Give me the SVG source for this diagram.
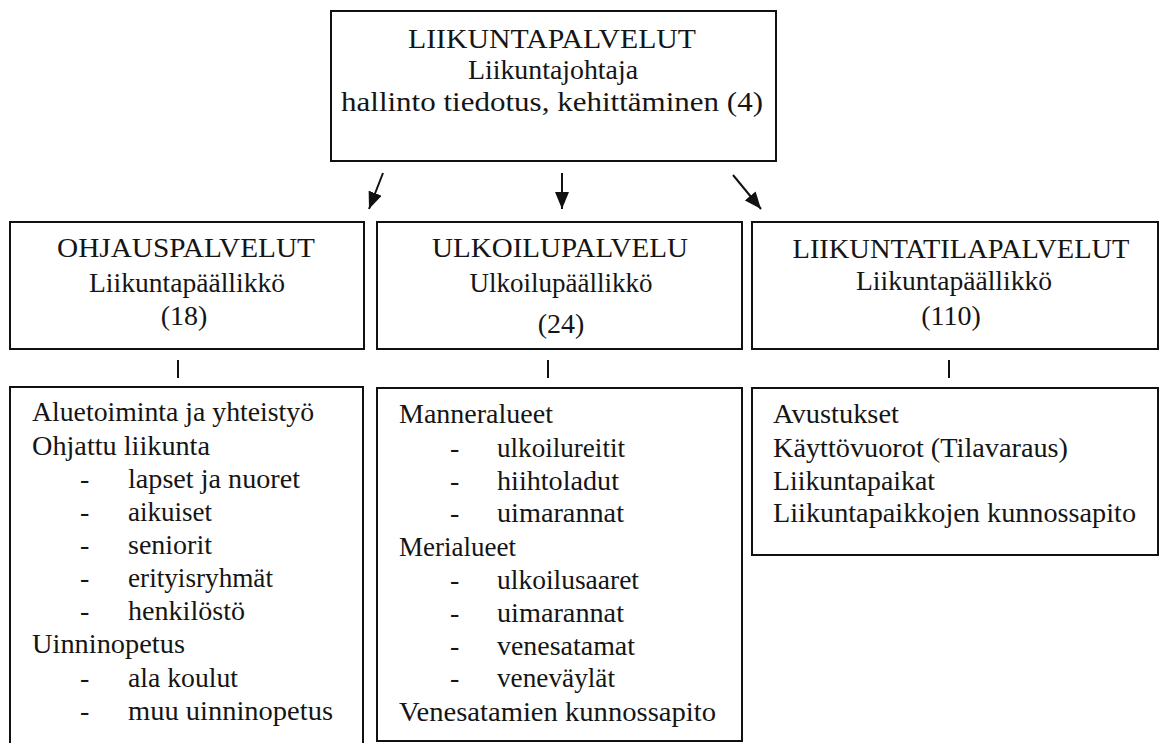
<svg xmlns="http://www.w3.org/2000/svg" width="1160" height="743" viewBox="0 0 1160 743">
<style>
  .box { fill: #fff; stroke: #111; stroke-width: 2; }
  text { font-family: "Liberation Serif", "Times New Roman", serif; font-size: 28px; fill: #151515; }
  .c { text-anchor: middle; }
  .conn { stroke: #111; stroke-width: 2; fill: none; }
</style>
<defs>
  <marker id="ah" markerUnits="userSpaceOnUse" markerWidth="18" markerHeight="15" refX="17" refY="7.5" orient="auto">
    <path d="M0,0.5 L17,7.5 L0,14.5 z" fill="#111"/>
  </marker>
</defs>
<rect width="1160" height="743" fill="#fff"/>

<g id="top">
  <rect class="box" x="331" y="11" width="445" height="150"/>
  <text class="c" x="552" y="48" textLength="288" lengthAdjust="spacingAndGlyphs">LIIKUNTAPALVELUT</text>
  <text class="c" x="553" y="79" textLength="170" lengthAdjust="spacingAndGlyphs">Liikuntajohtaja</text>
  <text class="c" x="552" y="111" textLength="422" lengthAdjust="spacingAndGlyphs">hallinto tiedotus, kehittäminen (4)</text>
</g>

<g id="connectors">
  <line class="conn" x1="383" y1="173" x2="369" y2="209" marker-end="url(#ah)"/>
  <line class="conn" x1="562" y1="173" x2="562" y2="209" marker-end="url(#ah)"/>
  <line class="conn" x1="733" y1="175" x2="761" y2="209" marker-end="url(#ah)"/>
  <line class="conn" x1="178" y1="360" x2="178" y2="378"/>
  <line class="conn" x1="548" y1="360" x2="548" y2="378"/>
  <line class="conn" x1="949" y1="360" x2="949" y2="378"/>
</g>

<g id="ohjaus">
  <rect class="box" x="10" y="222" width="354" height="127"/>
  <text class="c" x="186" y="257" textLength="258" lengthAdjust="spacingAndGlyphs">OHJAUSPALVELUT</text>
  <text class="c" x="187" y="292" textLength="196" lengthAdjust="spacingAndGlyphs">Liikuntapäällikkö</text>
  <text class="c" x="184" y="325">(18)</text>
</g>

<g id="ulkoilu">
  <rect class="box" x="377" y="222" width="365" height="127"/>
  <text class="c" x="560" y="257" textLength="256" lengthAdjust="spacingAndGlyphs">ULKOILUPALVELU</text>
  <text class="c" x="561" y="292" textLength="183" lengthAdjust="spacingAndGlyphs">Ulkoilupäällikkö</text>
  <text class="c" x="561" y="333">(24)</text>
</g>

<g id="liikuntatila">
  <rect class="box" x="752" y="222" width="406" height="127"/>
  <text class="c" x="961" y="258" textLength="337" lengthAdjust="spacingAndGlyphs">LIIKUNTATILAPALVELUT</text>
  <text class="c" x="954" y="290" textLength="196" lengthAdjust="spacingAndGlyphs">Liikuntapäällikkö</text>
  <text class="c" x="951" y="325">(110)</text>
</g>

<g id="ohjaus-tasks">
  <rect class="box" x="10" y="387" width="353" height="380"/>
  <text x="32" y="421" textLength="282" lengthAdjust="spacingAndGlyphs">Aluetoiminta ja yhteistyö</text>
  <text x="32" y="455" textLength="178" lengthAdjust="spacingAndGlyphs">Ohjattu liikunta</text>
  <text x="80" y="488">-</text><text x="128" y="488" textLength="172" lengthAdjust="spacingAndGlyphs">lapset ja nuoret</text>
  <text x="80" y="521">-</text><text x="128" y="521" textLength="84" lengthAdjust="spacingAndGlyphs">aikuiset</text>
  <text x="80" y="554">-</text><text x="128" y="554" textLength="84" lengthAdjust="spacingAndGlyphs">seniorit</text>
  <text x="80" y="587">-</text><text x="128" y="587" textLength="145" lengthAdjust="spacingAndGlyphs">erityisryhmät</text>
  <text x="80" y="620">-</text><text x="128" y="620" textLength="117" lengthAdjust="spacingAndGlyphs">henkilöstö</text>
  <text x="32" y="653" textLength="153" lengthAdjust="spacingAndGlyphs">Uinninopetus</text>
  <text x="80" y="687">-</text><text x="128" y="687" textLength="110" lengthAdjust="spacingAndGlyphs">ala koulut</text>
  <text x="80" y="720">-</text><text x="128" y="720" textLength="205" lengthAdjust="spacingAndGlyphs">muu uinninopetus</text>
</g>

<g id="ulkoilu-tasks">
  <rect class="box" x="377" y="388" width="365" height="353"/>
  <text x="399" y="423" textLength="154" lengthAdjust="spacingAndGlyphs">Manneralueet</text>
  <text x="450" y="457">-</text><text x="497" y="457" textLength="128" lengthAdjust="spacingAndGlyphs">ulkoilureitit</text>
  <text x="450" y="490">-</text><text x="497" y="490" textLength="122" lengthAdjust="spacingAndGlyphs">hiihtoladut</text>
  <text x="450" y="522">-</text><text x="497" y="522" textLength="127" lengthAdjust="spacingAndGlyphs">uimarannat</text>
  <text x="399" y="556" textLength="117" lengthAdjust="spacingAndGlyphs">Merialueet</text>
  <text x="450" y="589">-</text><text x="497" y="589" textLength="142" lengthAdjust="spacingAndGlyphs">ulkoilusaaret</text>
  <text x="450" y="622">-</text><text x="497" y="622" textLength="127" lengthAdjust="spacingAndGlyphs">uimarannat</text>
  <text x="450" y="655">-</text><text x="497" y="655" textLength="138" lengthAdjust="spacingAndGlyphs">venesatamat</text>
  <text x="450" y="687">-</text><text x="497" y="687" textLength="118" lengthAdjust="spacingAndGlyphs">veneväylät</text>
  <text x="399" y="721" textLength="317" lengthAdjust="spacingAndGlyphs">Venesatamien kunnossapito</text>
</g>

<g id="liikuntatila-tasks">
  <rect class="box" x="752" y="388" width="406" height="167"/>
  <text x="773" y="423" textLength="126" lengthAdjust="spacingAndGlyphs">Avustukset</text>
  <text x="773" y="457" textLength="295" lengthAdjust="spacingAndGlyphs">Käyttövuorot (Tilavaraus)</text>
  <text x="773" y="490" textLength="162" lengthAdjust="spacingAndGlyphs">Liikuntapaikat</text>
  <text x="773" y="522" textLength="363" lengthAdjust="spacingAndGlyphs">Liikuntapaikkojen kunnossapito</text>
</g>
</svg>
